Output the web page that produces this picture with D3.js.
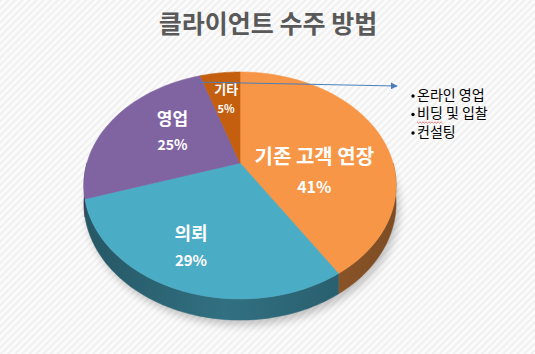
<!DOCTYPE html>
<html><head><meta charset="utf-8">
<script src="https://cdn.jsdelivr.net/npm/d3@7"></script>
<style>html,body{margin:0;padding:0;background:#fff;}svg{display:block;}</style>
</head><body>
<svg id="c" width="535" height="354"></svg>
<script>
const title = "클라이언트 수주 방법";
const categories = ["기존 고객 연장", "의뢰", "영업", "기타"];
const values = [41, 29, 25, 5];
const percentLabels = ["41%", "29%", "25%", "5%"];
const noteItems = ["온라인 영업", "비딩 및 입찰", "컨설팅"];

const colors = ["#F79646", "#4BACC6", "#8064A2", "#C55F10"];
const labelNudge = [[-11, 27], [-14, 15], [10, -3], [-1, -6]];
const nameSize = [20, 18, 17, 13];
const pctSize = [16, 15, 14, 11];

const W = 535, H = 354;
const svg = d3.select("#c");
const defs = svg.append("defs");

// background stripes
const pat = defs.append("pattern").attr("id", "bg").attr("patternUnits", "userSpaceOnUse")
  .attr("width", 5).attr("height", 5).attr("patternTransform", "rotate(45)");
pat.append("rect").attr("width", 5).attr("height", 5).attr("fill", "#fbfbfb");
pat.append("rect").attr("width", 2).attr("height", 5).attr("fill", "#f0f0f0");
svg.append("rect").attr("width", W).attr("height", H).attr("fill", "url(#bg)");

// projection (perspective 3D pie)
const CX = 240, CY = 163, A = 153, B = 109, P = 0.198, D = 17;
function proj(t, r, bottom) {
  const u = r * Math.sin(t), v = -r * Math.cos(t), s = 1 / (1 - P * v);
  return [CX + A * u * s, CY + B * v * s + (bottom ? D * s : 0)];
}
const pie = d3.pie().sort(null).value(d => d)(values);
const line = d3.line();
function arcPts(a0, a1, bottom) {
  const n = Math.max(2, Math.ceil((a1 - a0) / 0.02));
  return d3.range(n + 1).map(i => proj(a0 + (a1 - a0) * i / n, 1, bottom));
}

// shadow
const flt = defs.append("filter").attr("id", "blur").attr("x", "-20%").attr("y", "-20%").attr("width", "140%").attr("height", "140%");
flt.append("feGaussianBlur").attr("stdDeviation", 4);
svg.append("path")
  .attr("d", line(arcPts(0, 2 * Math.PI, true)) + "Z")
  .attr("transform", "translate(3,5)")
  .attr("fill", "#000").attr("opacity", 0.22).attr("filter", "url(#blur)");

// side walls
const lo = Math.PI / 2, hi = 3 * Math.PI / 2;
pie.forEach((d, i) => {
  const a0 = Math.max(d.startAngle, lo), a1 = Math.min(d.endAngle, hi);
  if (a1 <= a0) return;
  const base = d3.color(colors[i]);
  const g = defs.append("linearGradient").attr("id", "side" + i)
    .attr("gradientUnits", "userSpaceOnUse").attr("x1", CX - A * 1.03).attr("x2", CX + A * 1.03).attr("y1", 0).attr("y2", 0);
  g.append("stop").attr("offset", "0%").attr("stop-color", base.darker(1.9));
  g.append("stop").attr("offset", "45%").attr("stop-color", base.darker(1.2));
  g.append("stop").attr("offset", "100%").attr("stop-color", base.darker(1.9));
  const pts = arcPts(a0, a1, false).concat(arcPts(a0, a1, true).reverse());
  svg.append("path").attr("d", line(pts) + "Z").attr("fill", `url(#side${i})`)
    .attr("stroke", `url(#side${i})`).attr("stroke-width", 0.5);
});

// top faces
pie.forEach((d, i) => {
  const pts = [proj(0, 0, false)].concat(arcPts(d.startAngle, d.endAngle, false));
  svg.append("path").attr("d", line(pts) + "Z").attr("fill", colors[i])
    .attr("stroke", colors[i]).attr("stroke-width", 0.6);
});

// labels
const font = "'Noto Sans CJK KR', 'Noto Sans', sans-serif";
pie.forEach((d, i) => {
  const m = (d.startAngle + d.endAngle) / 2;
  const [x0, y0] = proj(m, 0.6, false);
  const x = x0 + labelNudge[i][0], y = y0 + labelNudge[i][1];
  const gap = nameSize[i] * 1.55;
  const g = svg.append("g").attr("font-family", font).attr("font-weight", "bold")
    .attr("fill", "#fff").attr("text-anchor", "middle");
  g.append("text").attr("x", x).attr("y", y - gap / 2).attr("dy", "0.35em")
    .attr("font-size", nameSize[i]).text(categories[i]);
  g.append("text").attr("x", x).attr("y", y + gap / 2).attr("dy", "0.35em")
    .attr("font-size", pctSize[i]).text(percentLabels[i]);
});

// title
svg.append("text").attr("x", 268).attr("y", 24).attr("dy", "0.35em")
  .attr("text-anchor", "middle").attr("font-family", font).attr("font-weight", "bold")
  .attr("font-size", 25).attr("fill", "#595959").text(title);

// arrow
const mk = defs.append("marker").attr("id", "arr").attr("viewBox", "0 0 10 10")
  .attr("refX", 9).attr("refY", 5).attr("markerWidth", 7).attr("markerHeight", 7)
  .attr("orient", "auto").attr("markerUnits", "userSpaceOnUse");
mk.append("path").attr("d", "M0,0L10,5L0,10Z").attr("fill", "#4A7EBB");
const start = proj(-0.36, 0.93, false);
svg.append("line").attr("x1", start[0]).attr("y1", start[1]).attr("x2", 397).attr("y2", 86)
  .attr("stroke", "#4A7EBB").attr("stroke-width", 1).attr("marker-end", "url(#arr)");

// note list
const note = svg.append("g").attr("font-family", font).attr("font-size", 14).attr("fill", "#000");
noteItems.forEach((t, i) => {
  const y = 95 + i * 18.5;
  note.append("circle").attr("cx", 413).attr("cy", y + 1).attr("r", 1.7);
  note.append("text").attr("x", 417).attr("y", y).attr("dy", "0.35em").text(t);
});
// spell-check squiggle under "비딩"
const sq = d3.range(0, 27, 1.5).map((dx, k) => [417 + dx, 122 + (k % 2 ? 1.2 : -0.2)]);
svg.append("path").attr("d", line(sq)).attr("fill", "none").attr("stroke", "#e06060").attr("stroke-width", 0.8);
</script>
</body></html>
